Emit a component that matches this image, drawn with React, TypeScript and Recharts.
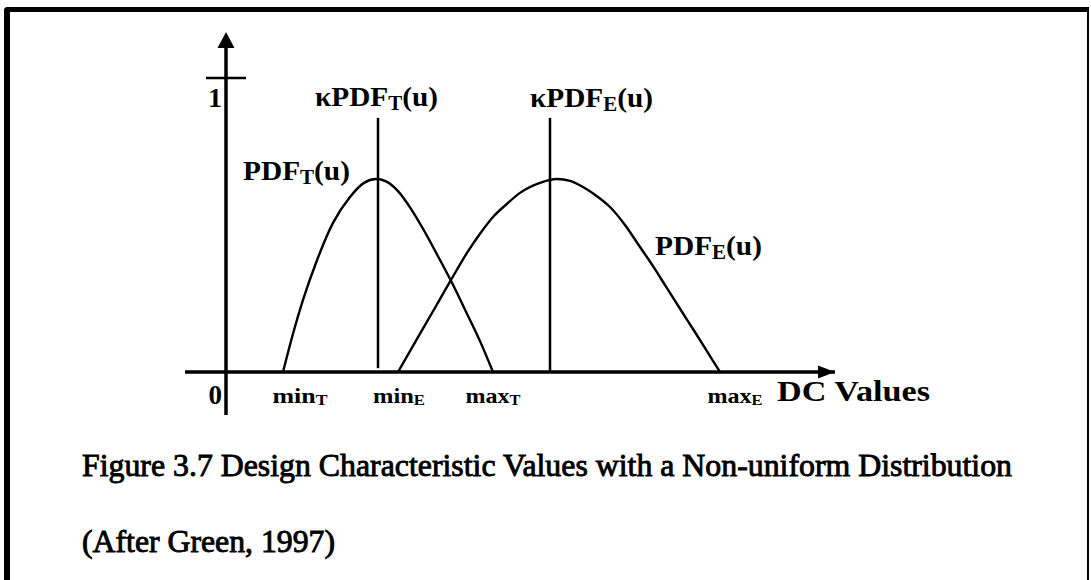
import React from 'react';
import { LineChart, Line, XAxis, YAxis, ReferenceLine, ReferenceDot } from 'recharts';

const FONT = '"Liberation Serif", "Times New Roman", Times, serif';

// ---- data (x: DC value units, v: density) ----
const minT = 57;
const maxT = 267;
const minE = 172;
const maxE = 494;
const kappaT = 152;
const kappaE = 324;
const yTop = 1.156;
const yBottom = -0.146;
const xDomain: [number, number] = [-41, 609];
const kappaTop = 0.864;

const pdfT = [
  { u: 57, v: 0 }, { u: 67, v: 0.13 }, { u: 77, v: 0.245 }, { u: 91, v: 0.38 },
  { u: 107, v: 0.507 }, { u: 124, v: 0.595 }, { u: 138, v: 0.643 }, { u: 150, v: 0.656 },
  { u: 160, v: 0.648 }, { u: 172, v: 0.615 }, { u: 184, v: 0.56 },
  { u: 197, v: 0.487 }, { u: 211, v: 0.4 }, { u: 225, v: 0.31 }, { u: 240, v: 0.205 },
  { u: 254, v: 0.105 }, { u: 267, v: 0 },
];

const pdfE = [
  { u: 172, v: 0 }, { u: 186, v: 0.083 }, { u: 200, v: 0.165 }, { u: 213, v: 0.242 },
  { u: 225, v: 0.313 }, { u: 241, v: 0.405 }, { u: 254, v: 0.47 }, { u: 267, v: 0.527 },
  { u: 281, v: 0.572 }, { u: 294, v: 0.609 }, { u: 314, v: 0.643 }, { u: 331, v: 0.656 },
  { u: 344, v: 0.65 }, { u: 357, v: 0.629 }, { u: 370, v: 0.6 }, { u: 384, v: 0.561 },
  { u: 399, v: 0.5 }, { u: 414, v: 0.425 }, { u: 428, v: 0.355 }, { u: 440, v: 0.29 },
  { u: 455, v: 0.21 }, { u: 470, v: 0.13 }, { u: 482, v: 0.065 }, { u: 494, v: 0 },
];

const tickValues = [0, minT, minE, maxT, maxE];
const tickMain = ['0', 'min', 'min', 'max', 'max'];
const tickSub = ['', 'T', 'E', 'T', 'E'];
const xAxisTitle = 'DC Values';
const yTickLabel = '1';
const captionLines = [
  'Figure 3.7 Design Characteristic Values with a Non-uniform Distribution',
  '(After Green, 1997)',
];

// ---- styling helpers ----
const tickDx = [-4, 17, 1, 0, 15];
const tickWidth = [0, 55, 52, 55, 55];

type STProps = {
  x: number; y: number; main: string; sub?: string; tail?: string;
  size: number; subSize?: number; width?: number; weight?: string | number;
  anchor?: 'start' | 'middle' | 'end'; subDy?: number;
};

function SubText({ x, y, main, sub, tail, size, subSize, width, weight = 'bold', anchor = 'start', subDy = 4 }: STProps) {
  const extra: any = width ? { textLength: width, lengthAdjust: 'spacingAndGlyphs' } : {};
  return (
    <text x={x} y={y} fontFamily={FONT} fontSize={size} fontWeight={weight} textAnchor={anchor} fill="#000" {...extra}>
      <tspan>{main}</tspan>
      {sub ? <tspan fontSize={subSize ?? size * 0.72} dy={subDy}>{sub}</tspan> : null}
      {tail ? <tspan dy={-subDy}>{tail}</tspan> : null}
    </text>
  );
}

const TickLabel = (props: any) => {
  const { x, y, payload } = props;
  const i = tickValues.indexOf(payload.value);
  if (i < 0) return null;
  if (i === 0) {
    return <SubText x={x + tickDx[0]} y={y + 24} main={tickMain[0]} size={27} anchor="end" />;
  }
  return (
    <SubText x={x + tickDx[i]} y={y + 23} main={tickMain[i]} sub={tickSub[i]} size={22} subSize={15}
      subDy={2} width={tickWidth[i]} anchor="middle" />
  );
};

const AxisTitle = (props: any) => {
  const vb = props.viewBox;
  return <SubText x={vb.x + vb.width - 58} y={vb.y + 29} main={xAxisTitle} size={29} width={153} />;
};

const UpArrow = (p: any) => (
  <polygon points={`${p.cx},${p.cy} ${p.cx - 8.5},${p.cy + 16} ${p.cx + 8.5},${p.cy + 16}`} fill="#000" />
);
const RightArrow = (p: any) => (
  <polygon points={`${p.cx},${p.cy} ${p.cx - 17},${p.cy - 6.5} ${p.cx - 17},${p.cy + 6.5}`} fill="#000" />
);

const labelShape = (cfg: Omit<STProps, 'x' | 'y'> & { dx: number; dy: number }) => (p: any) => {
  const { dx, dy, ...rest } = cfg;
  return <SubText x={p.cx + dx} y={p.cy + dy} {...rest} />;
};

export default function App() {
  return (
    <div style={{ position: 'absolute', left: 0, top: 0, width: 1091, height: 580, overflow: 'hidden', background: '#fff' }}>
      <div style={{
        position: 'absolute', left: 4, top: 7, width: 1085, height: 573, boxSizing: 'border-box',
        borderLeft: '6px solid #000', borderTop: '5px solid #000', borderRight: '2px solid #000',
        borderTopLeftRadius: 4,
      }} />
      <svg width={1091} height={580} style={{ position: 'absolute', left: 0, top: 0 }}>
        <text x={82} y={476} fontFamily={FONT} fontSize={32} textLength={930} lengthAdjust="spacingAndGlyphs"
          fill="#000" stroke="#000" strokeWidth={0.9}>{captionLines[0]}</text>
        <text x={82} y={552} fontFamily={FONT} fontSize={32} textLength={253} lengthAdjust="spacingAndGlyphs"
          fill="#000" stroke="#000" strokeWidth={0.9}>{captionLines[1]}</text>
      </svg>
      <div style={{ position: 'absolute', left: 0, top: 0 }}>
        <LineChart width={1091} height={580} margin={{ top: 32, right: 256, bottom: 178, left: 185 }}>
          <XAxis type="number" dataKey="u" domain={xDomain} allowDataOverflow ticks={tickValues} interval={0}
            tickLine={false} axisLine={{ stroke: '#000', strokeWidth: 3.5 }} tick={<TickLabel />} height={30}
            label={<AxisTitle />} />
          <YAxis type="number" dataKey="v" domain={[0, yTop]} allowDataOverflow hide width={0} />
          <ReferenceLine segment={[{ x: 0, y: yBottom }, { x: 0, y: yTop - 0.02 }]} stroke="#000" strokeWidth={3.5} ifOverflow="visible" />
          <ReferenceLine segment={[{ x: -20, y: 1 }, { x: 20, y: 1 }]} stroke="#000" strokeWidth={2.5} ifOverflow="visible" />
          <ReferenceLine segment={[{ x: kappaT, y: 0.013 }, { x: kappaT, y: kappaTop }]} stroke="#000" strokeWidth={2.5} ifOverflow="visible" />
          <ReferenceLine segment={[{ x: kappaE, y: 0 }, { x: kappaE, y: kappaTop }]} stroke="#000" strokeWidth={2.5} ifOverflow="visible" />
          <Line data={pdfT} dataKey="v" type="monotone" stroke="#000" strokeWidth={2.4} dot={false} isAnimationActive={false} />
          <Line data={pdfE} dataKey="v" type="monotone" stroke="#000" strokeWidth={2.4} dot={false} isAnimationActive={false} />
          <ReferenceDot x={0} y={yTop} r={0} ifOverflow="visible" shape={UpArrow} />
          <ReferenceDot x={xDomain[1]} y={0} r={0} ifOverflow="visible" shape={RightArrow} />
          <ReferenceDot x={0} y={1} r={0} ifOverflow="visible"
            shape={labelShape({ dx: -4, dy: 29, main: yTickLabel, size: 28, anchor: 'end' })} />
          <ReferenceDot x={kappaT} y={kappaTop} r={0} ifOverflow="visible"
            shape={labelShape({ dx: -63, dy: -12, main: 'κPDF', sub: 'T', tail: '(u)', size: 28, subSize: 20, width: 123 })} />
          <ReferenceDot x={kappaE} y={kappaTop} r={0} ifOverflow="visible"
            shape={labelShape({ dx: -20, dy: -11, main: 'κPDF', sub: 'E', tail: '(u)', size: 28, subSize: 20, width: 123 })} />
          <ReferenceDot x={150} y={0.656} r={0} ifOverflow="visible"
            shape={labelShape({ dx: -133, dy: 1, main: 'PDF', sub: 'T', tail: '(u)', size: 28, subSize: 20, width: 107 })} />
          <ReferenceDot x={414} y={0.425} r={0} ifOverflow="visible"
            shape={labelShape({ dx: 15, dy: 8, main: 'PDF', sub: 'E', tail: '(u)', size: 28, subSize: 20, width: 107 })} />
        </LineChart>
      </div>
    </div>
  );
}
